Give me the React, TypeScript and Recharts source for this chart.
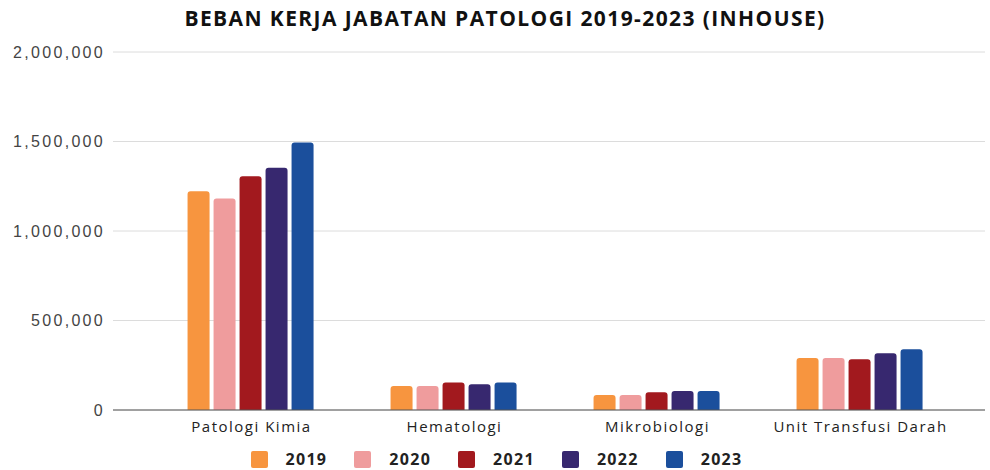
import { BarChart, Bar, XAxis, YAxis, CartesianGrid, Legend } from 'recharts';

const categories = ['Patologi Kimia', 'Hematologi', 'Mikrobiologi', 'Unit Transfusi Darah'];
const years = ['2019', '2020', '2021', '2022', '2023'];
const colors = ['#F7953F', '#EF9C9D', '#A2191E', '#37286F', '#1B4F9C'];

const v2019 = [1222000, 134000, 84000, 291000];
const v2020 = [1181000, 134000, 84000, 291000];
const v2021 = [1306000, 153000, 99000, 284000];
const v2022 = [1353000, 144000, 106000, 317000];
const v2023 = [1495000, 153000, 106000, 340000];

const yTicks = [0, 500000, 1000000, 1500000, 2000000];

const series = [v2019, v2020, v2021, v2022, v2023];

const data = categories.map((name, i) => {
  const row: Record<string, string | number> = { name };
  years.forEach((y, j) => {
    row[y] = series[j][i];
  });
  return row;
});

function LegendRow() {
  return (
    <div
      style={{
        display: 'flex',
        justifyContent: 'center',
        alignItems: 'center',
        height: 30,
        paddingTop: 8,
        boxSizing: 'border-box',
      }}
    >
      {years.map((y, i) => (
        <div key={y} style={{ display: 'flex', alignItems: 'center', marginRight: i < years.length - 1 ? 27 : 0 }}>
          <div style={{ width: 17, height: 17, background: colors[i], borderRadius: 2, marginRight: 18 }} />
          <span
            style={{
              fontFamily: '"Open Sans", sans-serif',
              fontWeight: 700,
              fontSize: 16,
              lineHeight: '17px',
              letterSpacing: 1.3,
              color: '#222',
            }}
          >
            {y}
          </span>
        </div>
      ))}
    </div>
  );
}

export default function App() {
  return (
    <div style={{ position: 'absolute', left: 0, top: 0, width: 990, height: 470, background: '#fff' }}>
      <div
        style={{
          position: 'absolute',
          top: 4,
          left: 0,
          width: 1010,
          textAlign: 'center',
          fontFamily: '"Open Sans", sans-serif',
          fontWeight: 700,
          fontSize: 21,
          letterSpacing: 1.4,
          color: '#111',
        }}
      >
        BEBAN KERJA JABATAN PATOLOGI 2019-2023 (INHOUSE)
      </div>
      <BarChart
        width={990}
        height={470}
        data={data}
        margin={{ top: 52, right: 5, bottom: 0, left: 8 }}
        barCategoryGap="18.5%"
        barGap={4}
      >
        <CartesianGrid vertical={false} stroke="#dcdcdc" />
        <XAxis
          dataKey="name"
          height={30}
          padding={{ left: 37, right: 23 }}
          tickSize={0}
          tickMargin={11}
          axisLine={{ stroke: '#555' }}
          tick={{ fontSize: 15, letterSpacing: 1.5, fill: '#222', fontFamily: '"Open Sans", sans-serif' }}
        />
        <YAxis
          width={105}
          domain={[0, 2000000]}
          ticks={yTicks}
          tickSize={0}
          tickMargin={8}
          axisLine={false}
          tickFormatter={(v: number) => v.toLocaleString('en-US')}
          tick={{ fontSize: 16, letterSpacing: 2.3, fill: '#444', fontFamily: '"Liberation Sans", Arial, sans-serif' }}
        />
        <Legend verticalAlign="bottom" height={30} content={() => <LegendRow />} />
        {years.map((y, i) => (
          <Bar key={y} dataKey={y} fill={colors[i]} radius={[3, 3, 0, 0]} isAnimationActive={false} />
        ))}
      </BarChart>
    </div>
  );
}
